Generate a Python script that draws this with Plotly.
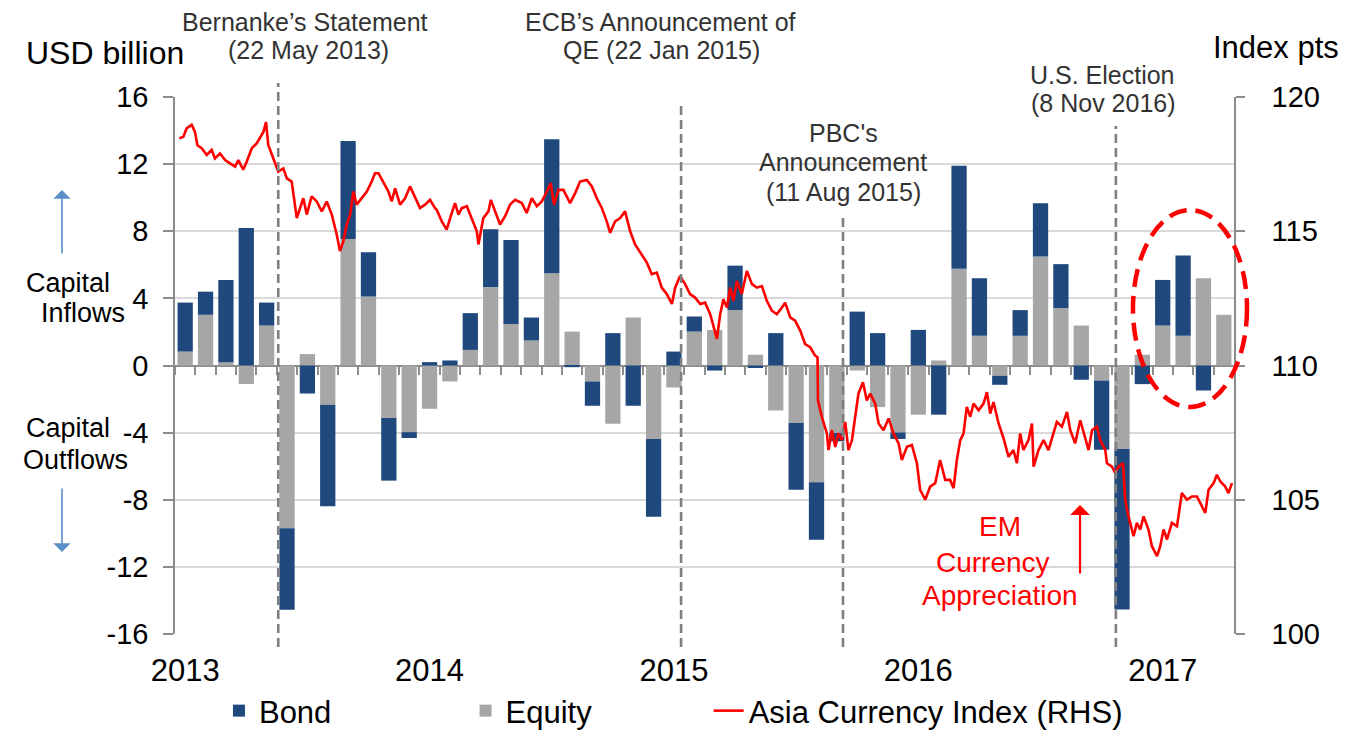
import numpy as np
import pandas as pd
import plotly.graph_objects as go

# ---------------- data ----------------
months = pd.date_range("2013-01-01", periods=52, freq="MS").strftime("%b %Y").tolist()

equity = [0.83, 3.02, 0.2, -1.1, 2.38, -9.7, 0.68, -2.34, 7.54, 4.11, -3.13, -3.97,
          -2.58, -0.95, 0.93, 4.67, 2.48, 1.49, 5.5, 2.02, -0.95, -3.47, 2.86, -4.38,
          -1.31, 2.02, 2.12, 3.3, 0.64, -2.68, -3.43, -6.96, -4.02, -0.3, -2.48, -3.99,
          -2.93, 0.3, 5.76, 1.77, -0.61, 1.77, 6.49, 3.42, 2.38, -0.89, -4.98, 0.64,
          2.38, 1.77, 5.2, 3.02]

bond = [2.92, 1.38, 4.9, 8.2, 1.37, -4.85, -1.67, -6.05, 5.84, 2.64, -3.73, -0.35,
        0.2, 0.3, 2.19, 3.45, 5.0, 1.37, 7.98, -0.1, -1.45, 1.93, -2.4, -4.64,
        0.83, 0.9, -0.3, 2.65, -0.15, 1.93, -3.97, -3.42, -0.5, 3.21, 1.93, -0.39,
        2.12, -2.93, 6.14, 3.43, -0.54, 1.53, 3.18, 2.62, -0.85, -4.13, -9.56, -1.11,
        2.72, 4.78, -1.49, 0.0]

# Asia Currency Index: time in months elapsed since 1 Jan 2013, index points
asia_t = [0.21, 0.41, 0.57, 0.82, 0.98, 1.10, 1.31, 1.56, 1.80, 1.96, 2.21, 2.46, 2.70, 2.95,
          3.11, 3.35, 3.52, 3.77, 4.01, 4.21, 4.34, 4.47, 4.58, 4.83, 5.07, 5.32, 5.49, 5.73,
          5.89, 5.98, 6.14, 6.30, 6.47, 6.71, 6.96, 7.21, 7.45, 7.70, 7.94, 8.10, 8.27, 8.43,
          8.60, 8.76, 8.92, 9.17, 9.42, 9.66, 9.82, 9.99, 10.23, 10.48, 10.64, 10.81, 11.05,
          11.30, 11.54, 11.79, 12.03, 12.28, 12.52, 12.77, 12.85, 13.10, 13.34, 13.51, 13.75,
          13.92, 14.08, 14.33, 14.57, 14.82, 14.90, 15.14, 15.39, 15.51, 15.72, 15.96, 16.21,
          16.45, 16.70, 17.03, 17.27, 17.52, 17.77, 18.01, 18.26, 18.45, 18.61, 18.83, 19.07,
          19.40, 19.65, 19.89, 20.22, 20.47, 20.71, 20.96, 21.20, 21.37, 21.61, 21.86, 22.10,
          22.35, 22.59, 22.92, 23.17, 23.41, 23.66, 23.90, 24.15, 24.40, 24.56, 24.80, 25.05,
          25.29, 25.54, 25.79, 26.03, 26.28, 26.61, 26.77, 26.93, 27.10, 27.26, 27.42, 27.59,
          27.83, 28.08, 28.33, 28.57, 28.82, 29.06, 29.31, 29.55, 29.80, 29.96, 30.21, 30.45,
          30.70, 30.94, 31.19, 31.43, 31.55, 31.57, 31.76, 32.01, 32.09, 32.25, 32.42, 32.58,
          32.75, 32.91, 33.07, 33.24, 33.40, 33.56, 33.78, 33.97, 34.14, 34.38, 34.55, 34.79,
          35.04, 35.28, 35.53, 35.69, 35.94, 36.18, 36.43, 36.59, 36.84, 37.08, 37.33, 37.57,
          37.82, 38.06, 38.23, 38.39, 38.56, 38.72, 38.88, 39.05, 39.21, 39.46, 39.70, 39.87,
          40.03, 40.19, 40.44, 40.68, 40.93, 41.17, 41.34, 41.50, 41.66, 41.91, 42.08, 42.16,
          42.40, 42.65, 42.89, 43.14, 43.30, 43.55, 43.80, 43.96, 44.20, 44.45, 44.70, 44.86,
          45.03, 45.27, 45.43, 45.68, 45.76, 46.01, 46.17, 46.33, 46.55, 46.66, 46.82, 47.07,
          47.23, 47.40, 47.56, 47.80, 47.97, 48.22, 48.38, 48.54, 48.71, 48.95, 49.20, 49.44,
          49.69, 49.93, 50.18, 50.43, 50.59, 50.75, 51.00, 51.16, 51.33, 51.57, 51.73, 51.90]

asia_idx = [118.46, 118.52, 118.83, 118.97, 118.70, 118.20, 118.09, 117.84, 118.03, 117.71, 117.90,
            117.65, 117.53, 117.41, 117.65, 117.29, 117.59, 118.09, 118.27, 118.52, 118.70, 119.07,
            118.21, 117.71, 117.22, 117.34, 116.97, 116.85, 115.99, 115.49, 115.86, 116.23, 115.62,
            116.30, 116.11, 115.74, 116.11, 115.62, 114.88, 114.26, 114.63, 115.25, 115.62, 116.48,
            115.99, 116.23, 116.48, 116.85, 117.16, 117.16, 116.85, 116.48, 116.11, 116.60, 115.99,
            116.23, 116.67, 116.23, 115.86, 115.99, 116.17, 115.86, 115.80, 115.37, 115.06, 115.49,
            116.05, 115.62, 115.86, 115.93, 115.49, 115.00, 114.51, 115.49, 115.74, 116.17, 115.74,
            115.25, 115.56, 115.99, 116.17, 116.05, 115.68, 116.23, 115.93, 116.11, 116.48, 116.79,
            115.99, 116.54, 116.54, 116.05, 116.42, 116.85, 116.91, 116.67, 116.23, 115.86, 115.37,
            114.94, 115.37, 115.49, 115.74, 115.00, 114.51, 114.14, 113.83, 113.40, 113.46, 112.90,
            112.66, 112.29, 112.90, 113.33, 113.03, 112.66, 112.53, 112.29, 112.34, 111.91, 110.99,
            111.91, 112.47, 112.16, 112.90, 112.41, 113.15, 112.66, 113.52, 113.03, 112.90, 112.96,
            112.41, 112.04, 111.91, 112.16, 112.34, 111.79, 111.67, 111.30, 110.80, 110.68, 110.37,
            110.31, 108.70, 108.09, 107.47, 106.85, 107.59, 106.97, 107.47, 107.22, 107.90, 106.85,
            107.22, 108.09, 108.95, 109.38, 108.70, 108.95, 108.58, 107.84, 107.59, 108.03, 107.47,
            107.10, 106.48, 106.97, 107.04, 106.36, 105.37, 105.00, 105.49, 105.62, 106.48, 105.74,
            105.74, 105.43, 106.48, 107.22, 107.47, 108.46, 108.09, 108.58, 108.33, 108.58, 109.01,
            108.21, 108.64, 107.84, 107.30, 106.60, 106.85, 106.36, 107.47, 106.85, 107.22, 107.84,
            106.23, 106.85, 107.22, 106.85, 107.47, 107.90, 107.72, 108.27, 107.59, 107.10, 107.96,
            107.22, 106.85, 107.59, 107.72, 107.22, 106.85, 106.36, 106.23, 105.99, 106.23, 106.36,
            105.00, 104.38, 103.64, 104.14, 103.89, 104.38, 103.89, 103.27, 102.90, 103.27, 103.89,
            103.52, 104.14, 104.01, 105.25, 105.00, 105.12, 105.12, 104.75, 104.51, 105.37, 105.62,
            105.93, 105.68, 105.49, 105.25, 105.62]

year_labels = ["2013", "2014", "2015", "2016", "2017"]
left_ticks = [-16, -12, -8, -4, 0, 4, 8, 12, 16]
right_ticks = [100, 105, 110, 115, 120]

# events: months elapsed since 1 Jan 2013 where the marker line is drawn, and line top (paper units)
event_t = [5.07, 24.85, 32.8, 46.2]
event_top = [1.026, 0.991, 0.777, 0.946]

# ---------------- styling ----------------
FONT = "Liberation Sans, Arial, sans-serif"
BOND_C = "#1F497D"
EQ_C = "#A6A6A6"
RED = "#FF0000"
AX_C = "#8C8C8C"
TXT = "#333333"
NB = "\u00a0"

bar_x = np.arange(len(months)) + 0.5
year_pos = [months.index("Jan " + y) + 0.5 for y in year_labels]

fig = go.Figure()
fig.add_trace(go.Bar(x=bar_x, y=equity, name="Equity" + NB * 13, marker=dict(color=EQ_C, line=dict(width=0)),
                     width=0.75, legendrank=2, customdata=months))
fig.add_trace(go.Bar(x=bar_x, y=bond, name="Bond" + NB * 15, marker=dict(color=BOND_C, line=dict(width=0)),
                     width=0.75, legendrank=1, customdata=months))
fig.add_trace(go.Scatter(x=asia_t, y=asia_idx, name="Asia Currency Index (RHS)", mode="lines",
                         line=dict(color=RED, width=2.6), xaxis="x2", yaxis="y2", legendrank=3))

fig.update_layout(
    width=1338, height=726,
    margin=dict(l=167, r=112, t=89, b=100),
    paper_bgcolor="white", plot_bgcolor="white",
    barmode="relative", bargap=0.25,
    font=dict(family=FONT, color="#000000"),
    showlegend=True,
    legend=dict(orientation="h", x=0.0415, xanchor="left", yref="container", y=0.0317, yanchor="middle",
                font=dict(size=31, color="#000000"), bgcolor="rgba(0,0,0,0)", traceorder="normal"),
    xaxis=dict(range=[0, 52], anchor="free", position=0.5, showline=True, linecolor=AX_C, linewidth=1.5,
               tickmode="array", tickvals=list(range(0, 53)), ticks="outside", ticklen=9,
               tickcolor=AX_C, tickwidth=1.5, showticklabels=False, showgrid=False, zeroline=False,
               layer="below traces", automargin=False),
    xaxis2=dict(range=[0, 52], overlaying="x", anchor="y2", side="bottom", showline=False,
                tickmode="array", tickvals=year_pos, ticktext=year_labels, ticks="",
                tickfont=dict(size=31), showgrid=False, zeroline=False, ticklabelstandoff=15,
                automargin=False),
    yaxis=dict(range=[-16, 16], tickmode="array", tickvals=left_ticks,
               ticktext=[str(v) for v in left_ticks], showline=True, linecolor=AX_C,
               linewidth=1.5, ticks="outside", ticklen=10, tickcolor=AX_C, tickwidth=1.5,
               tickfont=dict(size=29), showgrid=True, gridcolor="#D9D9D9", gridwidth=1.5,
               zeroline=False, ticklabelstandoff=9, automargin=False),
    yaxis2=dict(range=[100, 120], overlaying="y", side="right", anchor="x2", tickmode="array",
                tickvals=right_ticks, showline=True, linecolor=AX_C, linewidth=1.5, ticks="outside",
                ticklen=9, tickcolor=AX_C, tickwidth=1.5, tickfont=dict(size=29), showgrid=False,
                zeroline=False, ticklabelstandoff=21, automargin=False),
)

# event dashed lines
for t, top in zip(event_t, event_top):
    fig.add_shape(type="line", xref="x", yref="paper", x0=t, x1=t, y0=-0.024, y1=top,
                  line=dict(color="#7F7F7F", width=2.6, dash="9px,5px"), layer="above")

# dashed ellipse highlight
fig.add_shape(type="circle", xref="paper", yref="paper", x0=0.9046, x1=1.0123, y0=0.4227, y1=0.7896,
              line=dict(color=RED, width=4.5, dash="18px,9px"), layer="above")


def txt(text, x, y, size=25, color=TXT, xanchor="center"):
    fig.add_annotation(text=text, x=x, y=y, xref="paper", yref="paper", showarrow=False,
                       font=dict(size=size, color=color, family=FONT), xanchor=xanchor, yanchor="middle")


txt("USD billion", -0.0661, 1.082, size=32, color="#000000")
txt("Index pts", 1.040, 1.093, size=31, color="#000000")
txt("Bernanke’s Statement", 0.1228, 1.1397)
txt("(22 May 2013)", 0.1265, 1.0875)
txt("ECB’s Announcement of", 0.458, 1.1397)
txt("QE (22 Jan 2015)", 0.4596, 1.0875)
txt("PBC's", 0.6308, 0.933)
txt("Announcement", 0.6308, 0.8795)
txt("(11 Aug 2015)", 0.6308, 0.8237)
txt("U.S. Election", 0.8754, 1.041)
txt("(8 Nov 2016)", 0.8763, 0.9883)
txt("Capital", -0.101, 0.6536, size=27, color="#000000")
txt("Inflows", -0.0869, 0.5978, size=27, color="#000000")
txt("Capital", -0.101, 0.3836, size=27, color="#000000")
txt("Outflows", -0.0944, 0.324, size=27, color="#000000")
txt("EM", 0.779, 0.1993, size=28, color=RED)
txt("Currency", 0.7724, 0.134, size=28, color=RED)
txt("Appreciation", 0.779, 0.0726, size=28, color=RED)

# arrows
fig.add_annotation(x=-0.1067, y=0.8268, xref="paper", yref="paper", ax=0, ay=65, text="",
                   showarrow=True, arrowhead=1, arrowsize=1.8, arrowwidth=1.6, arrowcolor="#5B8FC9")
fig.add_annotation(x=-0.1067, y=0.1527, xref="paper", yref="paper", ax=0, ay=-65, text="",
                   showarrow=True, arrowhead=1, arrowsize=1.8, arrowwidth=1.6, arrowcolor="#5B8FC9")
fig.add_annotation(x=0.8546, y=0.2402, xref="paper", yref="paper", ax=0, ay=70, text="",
                   showarrow=True, arrowhead=1, arrowsize=1.5, arrowwidth=2.2, arrowcolor=RED)

fig.write_html("out.html")
